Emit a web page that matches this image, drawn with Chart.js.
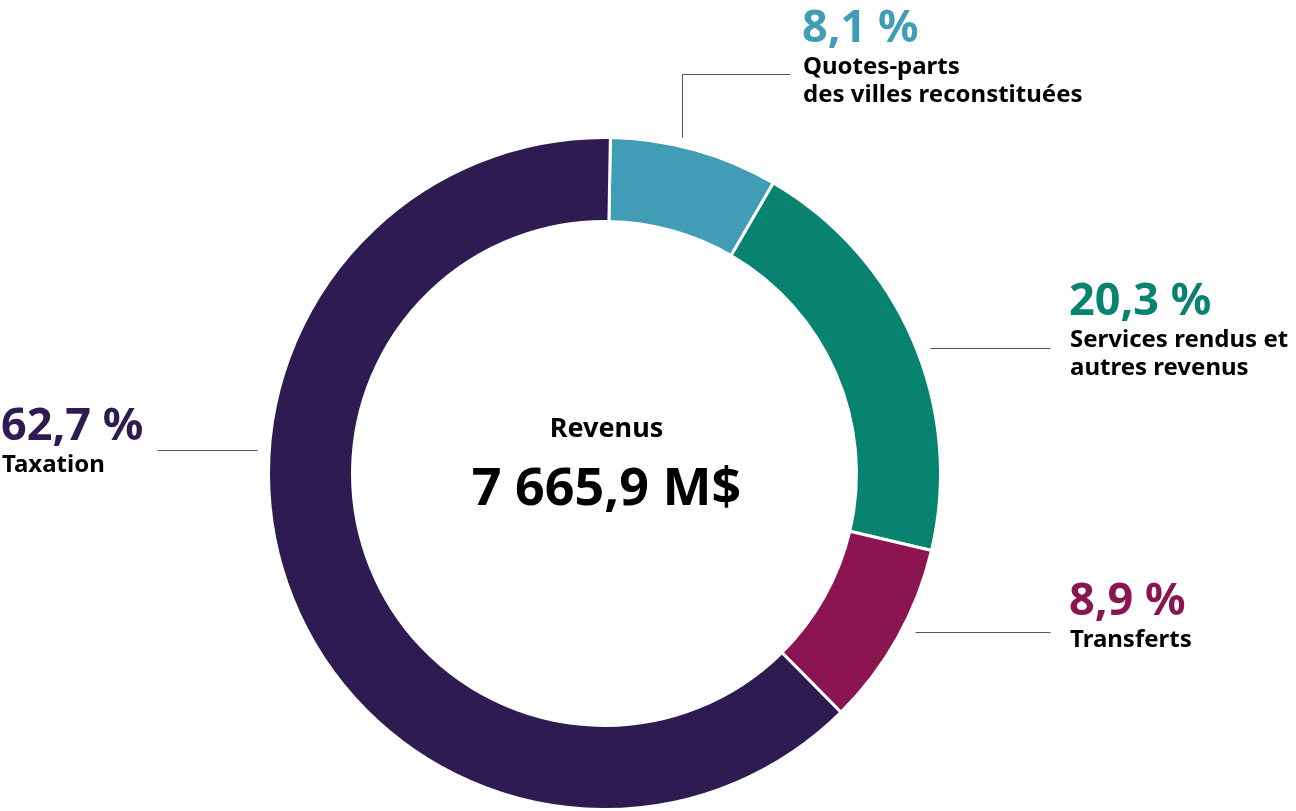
<!DOCTYPE html>
<html lang="fr">
<head>
<meta charset="utf-8">
<title>Revenus</title>
<script src="https://cdn.jsdelivr.net/npm/chart.js@4/dist/chart.umd.min.js"></script>
<style>
  html, body { margin: 0; padding: 0; background: #fff; }
  #wrap { width: 1296px; height: 811px; position: relative; }
</style>
</head>
<body>
<div id="wrap"><canvas id="chart" width="1296" height="811"></canvas></div>
<script>
// ── data ──
const CATEGORIES = [
  ["Quotes-parts", "des villes reconstituées"],
  ["Services rendus et", "autres revenus"],
  ["Transferts"],
  ["Taxation"],
];
const SHARES  = [8.1, 20.3, 8.9, 62.7];
const COLORS  = ["#419db5", "#088370", "#8b1551", "#2e1b51"];
const TOTAL_LABEL = "Revenus";
const TOTAL_VALUE = "7 665,9 M$";

// label placement (style only): text anchor + leader line points
const LABEL_POS = [
  { x: 802, y: 42,   line: [[682, 137], [682, 74], [790, 74]] },
  { x: 1069, y: 315, line: [[930, 348], [1050, 348]] },
  { x: 1069, y: 615, line: [[915, 632], [1050, 632]] },
  { x: 1,   y: 440,  line: [[157, 450], [257, 450]] },
];

const FONT = "'Noto Sans', 'DejaVu Sans', sans-serif";

function fmtPct(v) {
  return v.toFixed(1).replace(".", ",") + " %";
}

const labelPlugin = {
  id: "donutLabels",
  afterDraw(chart) {
    const ctx = chart.ctx;
    const meta = chart.getDatasetMeta(0);
    ctx.save();

    // leader lines
    ctx.strokeStyle = "#555";
    ctx.lineWidth = 1;
    LABEL_POS.forEach(p => {
      ctx.beginPath();
      p.line.forEach(([x, y], i) => i ? ctx.lineTo(x + 0.5, y + 0.5) : ctx.moveTo(x + 0.5, y + 0.5));
      ctx.stroke();
    });

    // percent + category text
    ctx.textBaseline = "alphabetic";
    ctx.textAlign = "left";
    SHARES.forEach((v, i) => {
      const p = LABEL_POS[i];
      ctx.fillStyle = COLORS[i];
      ctx.font = `bold 45px ${FONT}`;
      ctx.fillText(fmtPct(v), p.x, p.y);
      ctx.fillStyle = "#000";
      ctx.font = `bold 24px ${FONT}`;
      CATEGORIES[i].forEach((line, j) => ctx.fillText(line, p.x + 1, p.y + 32 + j * 28));
    });

    // centre text
    const arc = meta.data[0];
    ctx.textAlign = "center";
    ctx.fillStyle = "#000";
    ctx.font = `bold 27px ${FONT}`;
    ctx.fillText(TOTAL_LABEL, arc.x + 2, arc.y - 37);
    ctx.font = `bold 52px ${FONT}`;
    ctx.fillText(TOTAL_VALUE, arc.x + 2, arc.y + 31);

    ctx.restore();
  }
};

new Chart(document.getElementById("chart"), {
  type: "doughnut",
  data: {
    labels: CATEGORIES.map(c => c.join(" ")),
    datasets: [{
      data: SHARES,
      backgroundColor: COLORS,
      borderColor: "#fff",
      borderWidth: 3,
      hoverOffset: 0,
    }]
  },
  options: {
    responsive: false,
    animation: false,
    cutout: "75%",
    rotation: 1,
    layout: { padding: { top: 136, bottom: 0, left: 267, right: 354 } },
    plugins: { legend: { display: false }, tooltip: { enabled: false } },
  },
  plugins: [labelPlugin]
});
</script>
</body>
</html>
